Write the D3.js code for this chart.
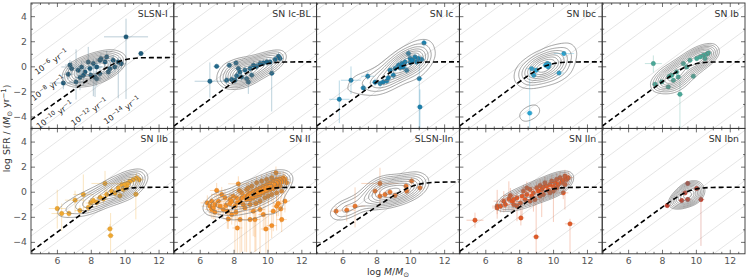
<!DOCTYPE html>
<meta charset="utf-8">
<html>
<script src="https://cdnjs.cloudflare.com/ajax/libs/d3/7.8.5/d3.min.js"></script>
<body style="margin:0;background:#fff">
<div id="chart"></div>
<script>
    //panel names and colours
    var panelNames = ["SLSN-I", "SN Ic-BL", "SN Ic", "SN Ibc", "SN Ib", "SN IIb", "SN II", "SLSN-IIn", "SN IIn", "SN Ibn"];
    var panelColors = ["#1f5b7a", "#22698c", "#1b80ad", "#27a4d2", "#4aa898", "#f0a830", "#f59028", "#e8772f", "#e15a27", "#c4402d"];

    //points: [log M, log SFR, dM, dSFR low, dSFR high]
    var slsnI = [[10.08,2.35,1.3,4.95,1.45],[10.96,1.02,0.15,0.2,0.2],[6.38,-1.33,0.8,0.5,0.5],[7.13,-1.25,0.4,1.4,2.6],
        [6.67,-0.63,0.3,0.4,0.4],[6.87,-0.18,0.3,0.4,0.6],[7.26,-0.31,0.3,0.5,0.5],[7.46,-0.05,1.2,0.5,0.5],[7.66,-0.45,0.3,0.4,0.4],
        [7.85,0.35,0.3,0.5,1.2],[7.95,-0.18,0.3,0.5,0.5],[8.15,0.22,0.3,2.6,0.4],[8.35,-0.05,0.4,0.6,0.6],[8.54,0.49,0.3,0.4,0.4],
        [8.6,0.6,0.3,0.3,0.4],[8.84,0.35,0.3,0.4,0.4],[8.94,0.75,0.4,0.5,0.5],[9.13,-0.18,0.3,0.6,0.5],[8.25,-0.85,0.3,1.6,0.5],
        [8.54,-0.58,0.3,0.6,0.5],[9.03,-0.45,0.3,0.5,0.5],[9.42,-0.05,0.3,0.4,0.4],[9.32,0.49,0.3,0.4,0.4],[9.62,0.35,0.3,2.9,0.4],
        [8.35,-1.0,0.3,0.6,0.6],[8.0,-0.7,0.3,0.5,0.5],[7.56,-0.71,0.3,0.8,0.6],[7.36,-0.9,0.3,1.0,0.5],[6.77,0.1,0.3,0.4,0.4],[9.8,0.2,0.3,0.4,0.4]];
    var snIcBL = [[6.6,-1.19,0.9,1.3,1.5],[7.0,0.0,0.2,0.2,0.2],[7.75,0.09,0.2,0.2,0.2],[8.14,0.27,0.2,0.2,0.2],[7.59,-1.11,0.2,0.3,0.3],
        [7.88,-1.05,0.2,0.3,0.3],[8.08,-1.11,0.2,0.3,0.3],[8.18,-0.75,0.2,0.3,0.3],[8.37,-0.45,0.2,0.3,0.3],[8.47,-0.85,0.2,0.3,0.3],
        [8.67,-0.3,0.2,0.3,0.3],[8.77,-0.98,0.2,0.4,0.3],[8.87,-1.25,0.2,0.95,0.3],[8.97,-0.17,0.2,0.3,0.3],[9.07,-0.7,0.2,0.3,0.3],
        [9.17,0.09,0.2,0.3,0.3],[9.36,0.0,0.2,0.3,0.3],[9.56,0.22,0.2,0.3,0.3],[9.76,0.27,0.2,0.3,0.3],[9.96,0.35,0.2,0.3,0.3],
        [10.15,0.35,0.2,0.3,0.3],[10.25,-0.55,0.2,3.05,1.05],[10.45,0.55,0.2,0.3,0.3],[10.65,0.8,0.2,0.3,0.3],[10.74,0.62,0.2,0.3,0.3],
        [8.28,-0.17,0.2,0.3,0.3]];
    var snIc = [[5.81,-2.63,0.6,1.9,1.5],[6.5,-1.11,0.6,1.1,1.1],[7.23,-1.72,0.2,0.3,0.3],[7.49,-0.79,0.4,0.3,0.3],[7.92,-1.27,0.2,0.3,0.3],
        [8.41,-1.24,0.2,0.3,0.3],[8.61,-1.16,0.2,0.3,0.3],[8.81,-0.31,0.2,0.3,0.3],[9.0,-0.71,0.2,0.3,0.3],[9.1,-0.17,0.2,0.3,0.3],
        [9.3,0.09,0.2,0.3,0.3],[9.49,0.22,0.2,0.3,0.3],[9.59,-0.05,0.2,0.3,0.3],[9.69,0.35,0.2,0.3,0.3],[9.89,1.02,0.2,0.3,0.3],
        [9.99,0.62,0.2,0.3,0.3],[10.18,0.49,0.2,0.3,0.3],[10.28,0.75,0.2,0.3,0.3],[10.38,0.35,0.2,0.3,0.3],[10.53,-0.98,0.2,4.0,1.7],
        [10.57,-3.24,0.2,1.7,1.4],[10.81,1.87,0.2,0.3,0.3],[10.48,0.62,0.2,0.3,0.3],[10.67,0.55,0.2,0.3,0.3],[9.79,-0.31,0.2,0.3,0.3],
        [8.71,-0.91,0.2,0.3,0.3],[8.22,-1.37,0.2,0.3,0.3],[10.0,0.3,0.2,0.3,0.3],[9.4,-0.1,0.2,0.3,0.3],[10.1,0.5,0.2,0.3,0.3]];
    var snIbc = [[8.62,-3.73,0.2,1.25,3.7],[8.74,-0.18,0.3,0.2,0.2],[8.86,-0.71,0.2,0.2,0.2],[9.0,-0.31,0.2,0.2,0.2],[9.56,0.09,0.2,0.2,0.2],
        [9.66,0.22,0.2,0.2,0.2],[9.72,-0.05,0.2,0.2,0.2],[9.76,0.17,0.2,0.2,0.2],[10.35,-0.53,0.3,0.2,0.2],[10.64,1.02,0.6,0.2,0.2]];
    var snIb = [[7.49,0.22,0.5,0.7,0.65],[7.59,-1.43,0.2,0.2,0.2],[7.98,-1.24,0.2,0.2,0.2],[8.37,-1.64,0.2,0.2,0.2],[8.43,-0.79,0.2,0.2,0.2],
        [8.67,-1.11,0.2,0.2,0.2],[8.96,-0.85,0.2,0.2,0.2],[9.06,-2.23,0.2,2.7,1.1],[9.26,0.22,0.2,0.2,0.2],[9.85,-0.79,0.2,0.2,0.2],
        [10.05,0.62,0.2,0.2,0.2],[10.25,0.75,0.2,0.2,0.2],[10.44,0.88,0.2,0.2,0.2],[10.64,0.97,0.2,0.2,0.2],[10.74,1.07,0.2,0.2,0.2],
        [10.54,0.62,0.2,0.2,0.2],[9.65,0.49,0.2,0.2,0.2],[9.46,-0.05,0.2,0.2,0.2],[8.86,-0.45,0.2,0.2,0.2],[8.57,-0.71,0.2,0.2,0.2]];
    var snIIb = [[6.02,-1.34,0.5,1.6,1.5],[6.28,-1.74,0.6,1.4,0.8],[6.71,-1.74,0.3,0.3,0.3],[7.07,-0.67,0.6,1.0,0.75],[7.56,-0.22,0.6,1.3,1.6],
        [7.36,-1.5,0.3,0.4,0.4],[7.85,-1.26,0.3,0.4,0.4],[7.99,-0.9,0.3,0.4,0.4],[8.15,-0.7,0.3,0.4,0.4],[8.35,-0.85,0.3,0.4,0.4],
        [8.55,-0.45,0.3,0.4,0.4],[8.84,0.66,0.8,1.2,1.0],[9.13,-2.96,0.2,0.4,0.4],[9.17,-3.5,0.2,1.4,1.8],[8.94,-0.22,0.3,0.4,0.4],
        [9.23,0.05,0.3,0.4,0.4],[9.43,-0.1,0.3,0.4,0.4],[9.62,0.3,0.3,0.4,0.4],[9.82,0.56,0.3,0.4,0.4],[9.92,0.17,0.3,0.4,0.4],
        [10.12,0.43,0.3,0.4,0.4],[10.31,0.83,0.3,0.4,0.4],[10.5,0.96,0.3,0.4,0.4],[10.7,1.1,0.3,0.4,0.4],[10.86,0.96,0.3,0.4,0.4],
        [10.66,-0.2,0.2,2.0,1.6],[8.74,-0.58,0.3,0.4,0.4],[9.72,-0.32,0.3,0.4,0.4],[10.0,0.6,0.3,0.4,0.4],[10.2,0.7,0.3,0.4,0.4]];
    var snII = [[6.45,-0.89,0.4,0.6,0.6],[6.61,-1.15,0.5,0.8,0.7],[6.71,-1.42,0.4,0.7,0.6],[6.80,-1.29,0.3,0.9,0.5],[6.90,-1.02,0.5,0.6,0.8],
        [7.0,0.1,0.4,0.6,0.6],[7.1,-0.75,0.4,1.2,0.8],[7.2,-1.15,0.3,0.8,0.9],[7.3,-0.22,0.6,0.9,0.6],[7.39,-1.42,0.3,0.6,0.7],
        [7.49,-0.49,0.4,1.0,0.7],[7.63,-1.55,0.3,1.4,0.9],[7.69,-2.17,0.3,0.8,0.6],[7.79,-0.94,0.4,0.8,0.7],[7.55,-1.10,0.4,0.7,0.8],
        [6.71,-0.75,0.5,0.7,0.6],[6.90,-1.63,0.4,0.6,0.5],[8.28,0.63,0.6,0.9,0.6],[8.38,-2.22,0.3,2.7,1.0],[8.22,-2.89,0.3,2.0,1.5],
        [8.97,-2.22,0.3,2.7,1.2],[9.16,-1.55,0.3,2.0,1.4],[9.26,-2.22,0.3,1.4,1.3],[9.56,-1.42,0.3,3.5,1.2],[9.75,-1.82,0.3,1.3,1.3],
        [9.91,-2.97,0.3,2.0,1.3],[10.25,-2.7,0.3,1.0,1.0],[10.34,-1.55,0.3,1.6,1.2],[10.54,-1.15,0.3,0.8,0.8],[10.64,-0.94,0.3,1.0,0.9],
        [10.84,-2.22,0.3,1.0,1.4],[11.03,-0.75,0.3,0.9,0.7],[10.78,-1.37,0.3,1.1,0.9],
        [8.08,-1.15,0.3,3.7,0.6],[8.22,-0.89,0.3,0.6,0.5],[8.38,-0.75,0.3,0.6,0.5],[8.48,-0.49,0.3,4.3,0.5],[8.57,-1.02,0.3,0.6,0.5],
        [8.67,-0.35,0.3,0.5,0.5],[8.77,-0.62,0.3,4.2,0.5],[8.87,-0.22,0.3,0.5,0.5],[8.97,-0.09,0.3,0.5,0.5],[9.07,-0.49,0.3,0.6,0.5],
        [9.16,0.05,0.3,0.5,0.5],[9.26,-0.22,0.3,4.6,0.5],[9.36,0.18,0.3,0.5,0.5],[9.46,-0.09,0.3,0.5,0.5],[9.56,0.31,0.3,0.5,0.5],
        [9.66,0.05,0.3,0.5,0.5],[9.75,0.45,0.3,0.5,0.5],[9.85,0.18,0.3,0.5,0.5],[9.95,0.58,0.3,0.5,0.5],[10.05,0.31,0.3,5.1,0.5],
        [10.15,0.71,0.3,0.5,0.5],[10.25,0.45,0.3,0.5,0.5],[10.34,0.85,0.3,0.5,0.5],[10.44,0.58,0.3,0.5,0.5],[10.54,0.98,0.3,0.5,0.5],
        [10.64,0.71,0.3,0.5,0.5],[10.74,1.03,0.3,0.5,0.5],[10.84,0.77,0.3,0.5,0.5],[10.93,1.11,0.3,0.5,0.5],[10.5,1.51,0.3,0.5,0.5],
        [11.03,0.98,0.3,0.5,0.5],[11.13,0.71,0.3,0.5,0.5],[8.97,-0.62,0.3,0.5,0.5],[9.16,-0.49,0.3,0.5,0.5],[9.36,-0.35,0.3,0.5,0.5],
        [9.56,-0.22,0.3,0.5,0.5],[9.75,-0.09,0.3,0.5,0.5],[9.95,0.05,0.3,0.5,0.5],[10.15,0.18,0.3,0.5,0.5],[10.34,0.23,0.3,0.5,0.5],
        [10.54,0.39,0.3,0.5,0.5],[10.74,0.45,0.3,0.5,0.5],[8.18,-0.49,0.3,0.5,0.5],[8.48,-0.09,0.3,0.5,0.5],[8.77,0.18,0.3,0.5,0.5],
        [9.07,0.45,0.3,0.5,0.5],[9.36,0.71,0.3,0.5,0.5],[9.66,0.85,0.3,0.5,0.5],[9.95,0.98,0.3,0.5,0.5],[10.25,1.11,0.3,0.5,0.5],
        [7.89,-0.75,0.3,0.6,0.6],[7.98,-0.35,0.3,0.6,0.6],[7.79,-0.62,0.3,0.6,0.6],[8.34,0.1,0.3,0.5,0.5],[8.87,0.31,0.3,0.5,0.5],
        [8.14,-1.63,0.3,0.8,0.6],[7.89,-1.82,0.3,0.8,0.6],[8.67,-1.29,0.3,3.5,0.6],[8.97,-1.02,0.3,0.6,0.6],[9.32,-0.94,0.3,3.8,0.6],
        [9.56,-0.75,0.3,0.6,0.6],[9.85,-0.49,0.3,2.5,0.6],[10.05,-0.35,0.3,0.6,0.6],[10.25,-0.22,0.3,0.6,0.6],[10.54,-0.09,0.3,3.0,0.6],
        [10.84,0.05,0.3,0.6,0.6]];
    var slsnIIn = [[5.62,-1.55,0.3,0.3,0.4],[6.25,-1.47,0.5,0.9,0.4],[6.74,-1.15,0.6,1.7,1.5],[7.92,0.05,0.2,0.3,0.3],[8.21,0.66,1.1,1.8,1.25],
        [8.21,-0.35,0.2,0.3,0.3],[8.51,-0.22,0.2,0.3,0.3],[8.8,-0.03,0.2,0.3,0.3],[9.1,-0.3,0.2,0.3,0.3],[9.75,0.45,0.2,0.3,0.3],
        [9.79,0.05,0.2,0.3,0.3],[10.08,0.85,0.2,0.3,0.3],[10.57,0.31,0.2,0.3,0.3]];
    var snIIn = [[5.39,-2.27,0.5,0.6,0.6],[6.70,-1.15,0.3,1.0,1.3],[6.70,-1.29,0.3,0.5,0.5],[7.09,-0.75,0.6,0.9,0.8],[7.39,-0.57,0.5,0.9,1.4],
        [7.48,-0.3,0.4,0.6,0.6],[7.58,-0.75,0.3,0.8,0.5],[7.68,-1.02,0.3,0.6,0.5],[7.87,-1.15,0.3,1.2,0.5],[8.07,-0.89,0.3,0.6,0.5],
        [8.1,-2.09,0.2,0.6,0.6],[8.17,-0.35,0.3,1.9,0.6],[8.25,0.05,0.3,0.5,0.5],[8.35,-0.62,0.3,0.5,0.5],[8.45,-0.22,0.3,0.5,0.5],
        [8.64,0.18,0.3,0.5,0.5],[8.74,-0.35,0.3,0.5,0.8],[8.84,-0.09,0.3,1.5,0.5],[9.0,-3.6,0.2,1.3,3.0],[9.03,0.31,0.3,0.5,0.5],
        [9.13,0.05,0.3,0.5,0.5],[9.23,0.5,0.3,0.5,0.5],[9.33,0.18,0.3,2.2,0.5],[9.43,0.39,0.3,0.5,0.5],[9.52,0.71,0.3,0.5,0.5],
        [9.62,0.45,0.3,0.5,0.5],[9.72,0.12,0.3,0.5,0.5],[9.82,0.58,0.3,0.5,0.5],[9.92,0.85,0.3,0.5,0.5],[10.02,0.39,0.3,2.8,0.5],
        [10.12,0.71,0.3,0.5,0.5],[10.21,0.98,0.3,0.5,0.5],[10.31,0.58,0.3,0.5,0.5],[10.41,1.12,0.3,0.5,0.5],[10.5,0.77,0.3,0.5,0.5],
        [10.6,0.92,0.3,0.5,0.5],[10.7,0.58,0.3,2.0,0.5],[10.8,0.98,0.3,0.5,0.5],[11.0,-2.56,0.3,2.3,0.4],[8.45,0.31,0.3,0.5,0.5],
        [7.87,-0.49,0.3,0.5,0.5],[7.68,-0.62,0.3,0.5,0.5],[8.93,-0.62,0.3,0.5,0.5],[9.43,-0.22,0.3,0.5,0.5],[9.82,-0.09,0.3,0.5,0.5],
        [10.21,0.31,0.3,0.5,0.5],[10.6,-0.09,0.3,0.5,0.5],[6.9,-1.15,0.3,0.5,0.5],[7.19,-1.02,0.3,0.5,0.5],[8.64,-0.75,0.3,0.5,0.5],
        [9.23,-0.35,0.3,0.5,0.5],[10.02,0.05,0.3,0.5,0.5],[10.7,1.25,0.3,0.5,0.5],[10.9,1.12,0.3,0.5,0.5]];
    var snIbn = [[8.31,-1.1,0.2,0.2,0.2],[9.16,-0.7,0.2,0.2,0.2],[9.36,-0.09,0.2,0.2,0.2],[9.52,-0.62,0.2,0.2,0.2],
        [9.52,0.66,0.2,0.2,0.2],[10.05,0.26,0.2,0.2,0.2],[10.3,-0.62,0.2,3.7,0.3]];
    var panelData = [slsnI, snIcBL, snIc, snIbc, snIb, snIIb, snII, slsnIIn, snIIn, snIbn];

    //dashed main sequence curves
    var msMass = [4.47, 6, 7, 8, 8.5, 9, 9.5, 10, 10.5, 11, 11.5, 12.9];
    var msSlsnI = [-4.27, -2.82, -1.87, -0.93, -0.47, -0.05, 0.29, 0.52, 0.63, 0.68, 0.69, 0.7];
    var msSlsnIIn = [-4.38, -3.0, -2.1, -1.2, -0.76, -0.33, 0.06, 0.38, 0.59, 0.70, 0.75, 0.78];
    var msOther = [-4.77, -3.24, -2.24, -1.25, -0.77, -0.34, 0.01, 0.21, 0.31, 0.34, 0.35, 0.36];
    var panelMs = [msSlsnI, msOther, msOther, msOther, msOther, msOther, msOther, msSlsnIIn, msOther, msOther];

    //constant sSFR lines and labels
    var sSfrLines = [-18, -16, -14, -12, -10, -8, -6, -4, -2, 0];
    var sSfrLabelExp = ["6", "8", "10", "12", "14"];
    var sSfrLabelMass = [5.65, 5.45, 5.85, 7.89, 9.82];
    var sSfrLabelSfr = [0.4, -1.7, -3.83, -3.6, -3.46];

    var xTicks = [6, 8, 10, 12];
    var yTicks = [-4, -2, 0, 2, 4];
    //contour levels: share of points left outside the outermost one, then even steps
    var kdeOuter = [0.08, 0.08, 0.08, -0.35, 0.08, 0.08, 0.08, -0.3, 0.08, 0.08];
    var kdeBandwidth = [13, 11, 11, 12, 11, 11, 9, 13, 10, 12];

    //layout
    var left = 31, top0 = 3, panelW = 142.8, panelH = 125.4;
    var svg = d3.select("#chart").append("svg")
        .attr("width", 748).attr("height", 280)
        .style("font-family", "DejaVu Sans, sans-serif");

    var x = d3.scaleLinear().domain([4.47, 12.9]).range([0, panelW]);
    var y = d3.scaleLinear().domain([-4.95, 5.05]).range([panelH, 0]);
    var angle = -Math.atan((y(0) - y(1)) / (x(1) - x(0))) * 180 / Math.PI;

    var xMinor = d3.range(4.5, 12.91, 0.5).filter(function(v) {return v % 2 != 0;});
    var yMinor = [-3, -1, 1, 3];

    //kde stretched along the cloud: rotate, squeeze across, contour, rotate back
    function kde(pts, bw, outer) {
        var th = 30 * Math.PI / 180, ratio = 1.6;
        var d = [Math.cos(th), -Math.sin(th)], nv = [Math.sin(th), Math.cos(th)];
        var W = pts.map(function(p) {
            var px = x(p[0]), py = y(p[1]);
            return [px * d[0] + py * d[1], ratio * (px * nv[0] + py * nv[1])];
        });
        var pad = 4 * bw;
        var gx0 = d3.min(W, function(w) {return w[0];}) - pad, gx1 = d3.max(W, function(w) {return w[0];}) + pad;
        var gy0 = d3.min(W, function(w) {return w[1];}) - pad, gy1 = d3.max(W, function(w) {return w[1];}) + pad;
        var G = W.map(function(w) {return [w[0] - gx0, w[1] - gy0];});
        var dens = G.map(function(g) {
            return d3.sum(G, function(q) {
                var dx = g[0] - q[0], dy = g[1] - q[1];
                return Math.exp(-(dx * dx + dy * dy) / (2 * bw * bw));
            }) / (2 * Math.PI * bw * bw);
        }).sort(d3.ascending);
        var lo = outer < 0 ? dens[0] * (1 + outer) : d3.quantileSorted(dens, outer);
        var hi = d3.quantileSorted(dens, 0.88);
        var levels = d3.range(9).map(function(j) {return lo + (hi - lo) * j / 8;});
        var contours = d3.contourDensity()
            .x(function(g) {return g[0];})
            .y(function(g) {return g[1];})
            .size([gx1 - gx0, gy1 - gy0])
            .cellSize(1)
            .bandwidth(bw)
            .thresholds(levels)(G);
        var proj = d3.geoTransform({point: function(gx, gy) {
            var u = gx + gx0, v = (gy + gy0) / ratio;
            this.stream.point(u * d[0] + v * nv[0], u * d[1] + v * nv[1]);
        }});
        return {contours: contours, path: d3.geoPath(proj)};
    }

    panelNames.forEach(function(name, i) {
        var col = i % 5, row = Math.floor(i / 5);
        var g = svg.append("g")
            .attr("transform", "translate(" + (left + col * panelW) + "," + (top0 + row * panelH) + ")");
        var color = panelColors[i];
        var pts = panelData[i];

        g.append("clipPath").attr("id", "clip" + i)
            .append("rect").attr("width", panelW).attr("height", panelH);
        var inner = g.append("g").attr("clip-path", "url(#clip" + i + ")");

        //sSFR lines
        inner.selectAll(".ssfr").data(sSfrLines).enter().append("line")
            .attr("x1", x(4.47)).attr("x2", x(12.9))
            .attr("y1", function(s) {return y(4.47 + s);})
            .attr("y2", function(s) {return y(12.9 + s);})
            .attr("stroke", "#d4d4d4").attr("stroke-width", 0.6);

        //error bars
        inner.selectAll(".ex").data(pts).enter().append("line")
            .attr("x1", function(d) {return x(d[0] - d[2]);})
            .attr("x2", function(d) {return x(d[0] + d[2]);})
            .attr("y1", function(d) {return y(d[1]);})
            .attr("y2", function(d) {return y(d[1]);})
            .attr("stroke", color).attr("stroke-opacity", 0.3).attr("stroke-width", 1);
        inner.selectAll(".ey").data(pts).enter().append("line")
            .attr("x1", function(d) {return x(d[0]);})
            .attr("x2", function(d) {return x(d[0]);})
            .attr("y1", function(d) {return y(d[1] - d[3]);})
            .attr("y2", function(d) {return y(d[1] + d[4]);})
            .attr("stroke", color).attr("stroke-opacity", 0.3).attr("stroke-width", 1);

        //points
        inner.selectAll(".pt").data(pts).enter().append("circle")
            .attr("cx", function(d) {return x(d[0]);})
            .attr("cy", function(d) {return y(d[1]);})
            .attr("r", 2.2)
            .attr("fill", color)
            .attr("stroke", d3.color(color).darker(0.5)).attr("stroke-width", 0.4);

        //density contours
        var k = kde(pts, kdeBandwidth[i], kdeOuter[i]);
        inner.selectAll(".ct").data(k.contours).enter().append("path")
            .attr("d", k.path)
            .attr("fill", "none")
            .attr("stroke", "#7a7a7a").attr("stroke-width", 0.7);

        //dashed line
        var ms = panelMs[i];
        inner.append("path")
            .datum(msMass)
            .attr("d", d3.line().curve(d3.curveMonotoneX)
                .x(function(m) {return x(m);})
                .y(function(m, j) {return y(ms[j]);}))
            .attr("fill", "none").attr("stroke", "#000")
            .attr("stroke-width", 1.6).attr("stroke-dasharray", "5,3");

        //sSFR labels in first panel
        if (i == 0) {
            sSfrLabelExp.forEach(function(e, j) {
                var t = g.append("text")
                    .attr("transform", "translate(" + x(sSfrLabelMass[j]) + "," + y(sSfrLabelSfr[j]) + ") rotate(" + angle + ")")
                    .attr("text-anchor", "middle").attr("dy", "0.35em")
                    .style("font-size", "8px").attr("fill", "#222");
                t.append("tspan").text("10");
                t.append("tspan").attr("dy", "-0.45em").style("font-size", "6px").text("\u2212" + e);
                t.append("tspan").attr("dy", "0.45em").text(" yr");
                t.append("tspan").attr("dy", "-0.45em").style("font-size", "6px").text("\u22121");
            });
        }

        //ticks on all four sides, pointing in
        function tickAxis(axis, vals, size, tf) {
            return axis.tickValues(vals).tickSizeInner(-size).tickSizeOuter(0).tickPadding(4).tickFormat(tf);
        }
        var noLab = function() {return "";};
        var lab = function(d) {return d < 0 ? "\u2212" + Math.abs(d) : d;};
        var makers = [
            function() {return d3.axisBottom(x);},
            function() {return d3.axisTop(x);},
            function() {return d3.axisLeft(y);},
            function() {return d3.axisRight(y);}
        ];
        var shifts = ["translate(0," + panelH + ")", null, null, "translate(" + panelW + ",0)"];
        makers.forEach(function(mk, k) {
            var isX = k < 2;
            var showLab = (k == 0 && row == 1) || (k == 2 && col == 0);
            var major = g.append("g").attr("transform", shifts[k])
                .call(tickAxis(mk(), isX ? xTicks : yTicks, 4, showLab ? lab : noLab));
            var minor = g.append("g").attr("transform", shifts[k])
                .call(tickAxis(mk(), isX ? xMinor : yMinor, 2, noLab));
            [major, minor].forEach(function(s) {
                s.select(".domain").remove();
                s.selectAll("line").attr("stroke", "#333").attr("stroke-width", 0.7);
                s.selectAll("text").attr("fill", "#555").style("font-size", "9.3px").style("font-family", "DejaVu Sans, sans-serif");
            });
        });

        //frame
        g.append("rect").attr("width", panelW).attr("height", panelH)
            .attr("fill", "none").attr("stroke", "#333").attr("stroke-width", 0.9);

        //panel title
        g.append("text")
            .attr("x", panelW - 6).attr("y", 14)
            .attr("text-anchor", "end")
            .style("font-size", "9.3px").attr("fill", "#333")
            .text(name);
    });

    //y axis label
    var yl = svg.append("text")
        .attr("transform", "translate(10," + (top0 + panelH) + ") rotate(-90)")
        .attr("text-anchor", "middle")
        .style("font-size", "9.3px").attr("fill", "#333");
    yl.append("tspan").text("log SFR / (");
    yl.append("tspan").style("font-style", "italic").text("M");
    yl.append("tspan").attr("dy", "0.3em").style("font-size", "7px").text("\u2299");
    yl.append("tspan").attr("dy", "-0.3em").text(" yr");
    yl.append("tspan").attr("dy", "-0.45em").style("font-size", "7px").text("\u22121");
    yl.append("tspan").attr("dy", "0.45em").text(")");

    //x axis label
    var xl = svg.append("text")
        .attr("x", left + 2.5 * panelW).attr("y", 275)
        .attr("text-anchor", "middle")
        .style("font-size", "9.3px").attr("fill", "#333");
    xl.append("tspan").text("log ");
    xl.append("tspan").style("font-style", "italic").text("M");
    xl.append("tspan").text("/");
    xl.append("tspan").style("font-style", "italic").text("M");
    xl.append("tspan").attr("dy", "0.3em").style("font-size", "7px").text("\u2299");
</script>
</body>
</html>
